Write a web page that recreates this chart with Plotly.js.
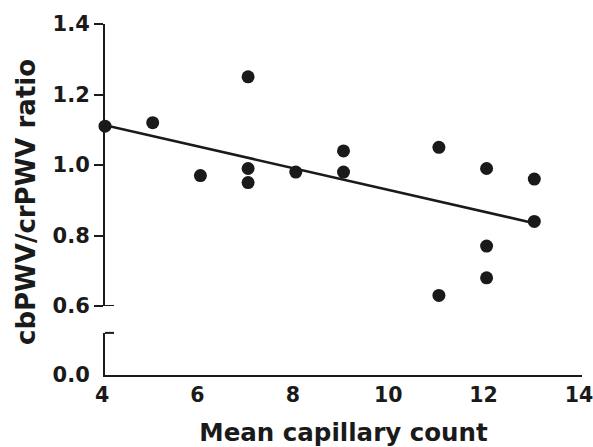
<!DOCTYPE html>
<html>
<head>
<meta charset="utf-8">
<script src="https://cdn.plot.ly/plotly-3.0.1.min.js"></script>
<style>html,body{margin:0;padding:0;background:#fff;}#chart{width:593px;height:447px;}</style>
</head>
<body>
<div id="chart"></div>
<script>
// Data
const capillaryCount = [4, 5, 6, 7, 7, 7, 8, 9, 9, 11, 11, 12, 12, 12, 13, 13];
const pwvRatio = [1.11, 1.12, 0.97, 1.25, 0.99, 0.95, 0.98, 1.04, 0.98, 1.05, 0.63, 0.99, 0.77, 0.68, 0.96, 0.84];
const fitX = [4, 13];
const fitY = [1.113, 0.835];
const xTickVals = [4, 6, 8, 10, 12, 14];
const xTickText = ['4', '6', '8', '10', '12', '14'];
const yUpperTickVals = [0.6, 0.8, 1.0, 1.2, 1.4];
const yUpperTickText = ['0.6', '0.8', '1.0', '1.2', '1.4'];
const yLowerTickVals = [0];
const yLowerTickText = ['0.0'];
const xTitle = 'Mean capillary count';
const yTitle = 'cbPWV/crPWV ratio';

const FONT = 'DejaVu Sans';
const ink = '#1a1a1a';

const traces = [
  {
    // empty trace so the lower (broken) y segment gets its own subplot
    x: [], y: [], xaxis: 'x', yaxis: 'y',
    type: 'scatter', mode: 'markers', hoverinfo: 'skip', showlegend: false
  },
  {
    x: fitX, y: fitY, xaxis: 'x', yaxis: 'y2',
    type: 'scatter', mode: 'lines',
    line: {color: ink, width: 2.5},
    hoverinfo: 'skip', showlegend: false
  },
  {
    x: capillaryCount, y: pwvRatio, xaxis: 'x', yaxis: 'y2',
    type: 'scatter', mode: 'markers',
    marker: {color: ink, size: 13, line: {width: 0}},
    cliponaxis: false, showlegend: false
  }
];

const layout = {
  width: 593, height: 447,
  margin: {l: 105, r: 11, t: 24, b: 72},
  paper_bgcolor: '#fff', plot_bgcolor: '#fff',
  font: {family: FONT, size: 21, color: ink, weight: 'bold'},
  showlegend: false,
  xaxis: {
    range: [4, 14], anchor: 'y',
    showline: true, linecolor: ink, linewidth: 2,
    showgrid: false, zeroline: false,
    tickmode: 'array', tickvals: xTickVals, ticktext: xTickText,
    ticks: '', ticklabelshift: -3,
    ticklabeloverflow: 'allow',
    tickfont: {family: FONT, size: 20.5, color: ink, weight: 'bold'},
    title: {text: xTitle, font: {family: FONT, size: 24.5, color: ink, weight: 'bold'}, standoff: 18}
  },
  yaxis: {
    domain: [0, 0.12], range: [0, 0.12], anchor: 'x',
    showline: true, linecolor: ink, linewidth: 2,
    showgrid: false, zeroline: false,
    tickmode: 'array', tickvals: yLowerTickVals, ticktext: yLowerTickText,
    ticks: 'outside', ticklen: 9, tickcolor: 'rgba(0,0,0,0)',
    tickfont: {family: FONT, size: 21, color: ink, weight: 'bold'}
  },
  yaxis2: {
    domain: [0.1966, 1], range: [0.6, 1.4], anchor: 'x',
    showline: true, linecolor: ink, linewidth: 2,
    showgrid: false, zeroline: false,
    tickmode: 'array', tickvals: yUpperTickVals, ticktext: yUpperTickText,
    ticks: 'outside', ticklen: 9, tickwidth: 2, tickcolor: ink,
    tickfont: {family: FONT, size: 21, color: ink, weight: 'bold'}
  },
  annotations: [
    {
      text: yTitle, textangle: -90, showarrow: false,
      xref: 'paper', yref: 'paper', x: -0.1656, y: 0.4929,
      xanchor: 'center', yanchor: 'middle',
      font: {family: FONT, size: 26, color: ink, weight: 'bold'}
    }
  ],
  shapes: [
    {type: 'line', xref: 'x', xsizemode: 'pixel', xanchor: 4, x0: 0, x1: 9,
     yref: 'y2', y0: 0.6, y1: 0.6, line: {color: ink, width: 2}},
    {type: 'line', xref: 'x', xsizemode: 'pixel', xanchor: 4, x0: -3, x1: 9,
     yref: 'y domain', y0: 1, y1: 1, line: {color: ink, width: 2}}
  ]
};

Plotly.newPlot('chart', traces, layout, {displayModeBar: false, staticPlot: true});
</script>
</body>
</html>
